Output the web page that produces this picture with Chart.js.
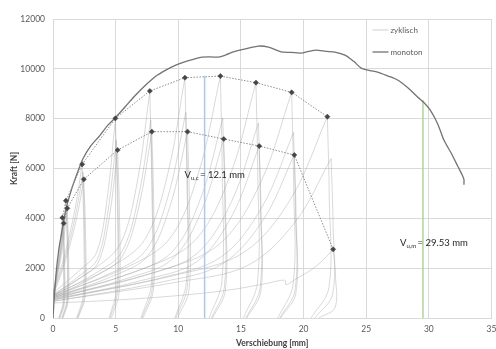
<!DOCTYPE html>
<html>
<head>
<meta charset="utf-8">
<script src="https://cdn.jsdelivr.net/npm/chart.js@4/dist/chart.umd.min.js"></script>
<style>
  html, body { margin: 0; padding: 0; background: #fff; }
  #wrap { width: 496px; height: 349px; position: relative; }
</style>
</head>
<body>
<div id="wrap"><canvas id="chart"></canvas></div>
<script>
/* ── Data ── */

const xTicks = [0, 5, 10, 15, 20, 25, 30, 35];
const yTicks = [0, 2000, 4000, 6000, 8000, 10000, 12000];

// monotonic test
const monoX = [0, 0.1, 0.25, 0.45, 0.65, 0.85, 1.1, 1.5, 2.0, 2.4, 3.0, 3.7, 4.4, 5.0, 5.8, 6.6, 7.4, 8.2, 9.0, 9.8,
               10.5, 11.2, 11.9, 12.6, 13.2, 13.8, 14.4, 15.0, 15.6, 16.4, 17.2, 18.2, 19.0, 19.8, 20.4, 21.0, 21.8,
               22.5, 23.3, 24.0, 24.6, 25.3, 25.9, 26.7, 27.5, 28.3, 29.1, 29.6, 30.1, 30.7, 31.2, 31.8, 32.3, 32.7,
               32.8, 32.8];
const monoY = [0, 800, 1800, 2700, 3300, 3900, 4500, 5200, 5900, 6400, 6900, 7300, 7750, 8050, 8500, 8950, 9350, 9700,
               9950, 10150, 10280, 10380, 10470, 10480, 10470, 10560, 10680, 10760, 10830, 10915, 10870, 10680, 10660,
               10630, 10700, 10750, 10700, 10670, 10550, 10300, 10030, 9930, 9870, 9720, 9550, 9250, 8870, 8650, 8350,
               7800, 7140, 6600, 6100, 5700, 5550, 5350];

// envelope of 1st and 3rd cycles
const envUpperX = [0.75, 1.03, 2.33, 4.98, 7.73, 10.53, 13.36, 16.2, 19.05, 21.9];
const envUpperY = [4025, 4707, 6168, 8014, 9110, 9644, 9711, 9443, 9057, 8078];
const envLowerX = [0.85, 1.14, 2.46, 5.16, 7.89, 10.74, 13.63, 16.46, 19.26, 22.36];
const envLowerY = [3800, 4402, 5566, 6742, 7477, 7477, 7183, 6902, 6541, 2756];

// ultimate displacements
const vuc = { x: 12.1, top: 9700, label: '12.1 mm' };
const vum = { x: 29.53, top: 8750, label: '29.53 mm' };

// cyclic test, visible pieces per load step (reloading / unloading)
const cycStep1 = [
    [[0, 950], [0.30, 1873], [0.56, 2949], [0.75, 4025]],
    [[0.75, 4025], [0.83, 2415], [0.80, 600], [0.45, 0]],
    [[0, 900], [0.32, 1800], [0.60, 2850], [0.80, 3900]],
    [[0.80, 3900], [0.88, 2340], [0.85, 585], [0.50, 0]],
    [[0, 880], [0.34, 1756], [0.64, 2778], [0.85, 3800]],
    [[0.85, 3800], [0.93, 2280], [0.90, 570], [0.55, 0]],
];
const cycStep2 = [
    [[0, 950], [0.41, 2077], [0.77, 3392], [1.03, 4707]],
    [[1.03, 4707], [1.13, 2824], [1.10, 706], [0.70, 0]],
    [[0, 900], [0.43, 1995], [0.81, 3273], [1.08, 4550]],
    [[1.08, 4550], [1.18, 2730], [1.15, 683], [0.75, 0]],
    [[0, 870], [0.46, 1930], [0.86, 3166], [1.14, 4402]],
    [[1.14, 4402], [1.24, 2641], [1.20, 660], [0.80, 0]],
];
const cycStep3 = [
    [[0, 980], [0.93, 2536], [1.75, 4352], [2.33, 6168]],
    [[2.33, 6168], [2.45, 3701], [2.42, 925], [1.90, 0]],
    [[0, 920], [0.96, 2399], [1.80, 4125], [2.40, 5850]],
    [[2.40, 5850], [2.52, 3510], [2.50, 878], [1.95, 0]],
    [[0, 880], [0.98, 2286], [1.85, 3926], [2.46, 5566]],
    [[2.46, 5566], [2.60, 3340], [2.56, 835], [2.00, 0]],
];
const cycStep4 = [
    [[0, 1000], [2.24, 1962], [3.49, 2645], [4.33, 4808], [4.98, 8014]],
    [[4.98, 8014], [5.13, 4808], [5.10, 1202], [4.48, 0]],
    [[0, 900], [2.27, 1758], [3.54, 2360], [4.39, 4290], [5.05, 7150]],
    [[5.05, 7150], [5.20, 4290], [5.17, 1073], [4.55, 0]],
    [[0, 860], [2.32, 1669], [3.61, 2225], [4.49, 4045], [5.16, 6742]],
    [[5.16, 6742], [5.31, 4045], [5.28, 1011], [4.66, 0]],
];
const cycStep5 = [
    [[0, 950], [3.48, 2043], [5.41, 3006], [6.73, 5466], [7.73, 9110]],
    [[7.73, 9110], [7.88, 5466], [7.85, 1367], [7.03, 0]],
    [[0, 880], [3.51, 1834], [5.46, 2624], [6.79, 4770], [7.80, 7950]],
    [[7.80, 7950], [7.95, 4770], [7.92, 1193], [7.10, 0]],
    [[0, 830], [3.55, 1727], [5.52, 2467], [6.86, 4486], [7.89, 7477]],
    [[7.89, 7477], [8.04, 4486], [8.01, 1122], [7.19, 0]],
];
const cycStep6 = [
    [[0, 920], [4.74, 2077], [7.37, 3183], [9.16, 5786], [10.53, 9644]],
    [[10.53, 9644], [10.68, 5786], [10.65, 1447], [9.73, 0]],
    [[0, 850], [4.77, 1840], [7.42, 2723], [9.22, 4950], [10.60, 8250]],
    [[10.60, 8250], [10.75, 4950], [10.72, 1238], [9.80, 0]],
    [[0, 800], [4.83, 1697], [7.52, 2467], [9.34, 4486], [10.74, 7477]],
    [[10.74, 7477], [10.89, 4486], [10.86, 1122], [9.94, 0]],
];
const cycStep7 = [
    [[0, 900], [6.01, 2065], [9.35, 3205], [11.62, 5827], [13.36, 9711]],
    [[13.36, 9711], [13.51, 5827], [13.48, 1457], [12.46, 0]],
    [[0, 820], [6.10, 1782], [9.49, 2645], [11.79, 4808], [13.55, 8014]],
    [[13.55, 8014], [13.70, 4808], [13.67, 1202], [12.65, 0]],
    [[0, 760], [6.13, 1622], [9.54, 2370], [11.86, 4310], [13.63, 7183]],
    [[13.63, 7183], [13.78, 4310], [13.75, 1077], [12.73, 0]],
];
const cycStep8 = [
    [[0, 860], [7.29, 1993], [11.34, 3116], [14.09, 5666], [16.20, 9443]],
    [[16.20, 9443], [16.35, 5666], [16.32, 1416], [15.20, 0]],
    [[0, 780], [7.38, 1719], [11.48, 2582], [14.27, 4695], [16.40, 7825]],
    [[16.40, 7825], [16.55, 4695], [16.52, 1174], [15.40, 0]],
    [[0, 720], [7.41, 1548], [11.52, 2278], [14.32, 4141], [16.46, 6902]],
    [[16.46, 6902], [16.61, 4141], [16.58, 1035], [15.46, 0]],
];
const cycStep9 = [
    [[0, 820], [8.57, 1907], [13.34, 2989], [16.57, 5434], [19.05, 9057]],
    [[19.05, 9057], [19.20, 5434], [19.17, 1359], [17.95, 0]],
    [[0, 720], [8.64, 1614], [13.44, 2459], [16.70, 4470], [19.20, 7450]],
    [[19.20, 7450], [19.35, 4470], [19.32, 1118], [18.10, 0]],
    [[0, 660], [8.67, 1445], [13.48, 2159], [16.76, 3925], [19.26, 6541]],
    [[19.26, 6541], [19.41, 3925], [19.38, 981], [18.16, 0]],
];
const cycStep10 = [
    [[0, 760], [9.86, 1729], [15.33, 2666], [19.05, 4847], [21.90, 8078]],
    [[21.90, 8078], [22.05, 4847], [22.02, 1212], [20.60, 0]],
    [[0, 680], [9.99, 1448], [15.54, 2112], [19.31, 3840], [22.20, 6400]],
    [[22.20, 6400], [22.35, 3840], [22.32, 960], [20.90, 0]],
    [[0, 600], [5, 720], [10, 900], [14, 1120], [17, 1380], [18.5, 1520], [18.6, 1330], [19.5, 1600],
     [20.6, 1926], [21.5, 2300], [22.36, 2756]],
    [[22.36, 2756], [22.55, 1650], [22.50, 410], [21.20, 0]],
];
const cycSteps = [cycStep1, cycStep2, cycStep3, cycStep4, cycStep5,
                  cycStep6, cycStep7, cycStep8, cycStep9, cycStep10];

/* ── Helpers ── */

const pts = (xs, ys) => xs.map((x, i) => ({ x, y: ys[i] }));

// flatten pieces into one path, gaps between pieces
function cyclicPath() {
    const out = [];
    cycSteps.forEach(step => step.forEach(piece => {
        piece.forEach(([x, y]) => out.push({ x, y }));
        out.push({ x: null, y: null });
    }));
    return out;
}

const TXT   = '#595959';
const GRID  = '#d9d9d9';
const FONT  = 'Lato, "Liberation Sans", sans-serif';

// legend + V_u labels drawn on the canvas
const overlay = {
    id: 'overlay',
    afterDatasetsDraw(chart) {
        const { ctx, chartArea, scales: { x, y } } = chart;
        ctx.save();

        // legend
        const lx = chartArea.right - 119;
        const rows = [
            { text: 'zyklisch', color: '#cfcfcf', width: 1, y: chartArea.top + 11 },
            { text: 'monoton',  color: '#737373', width: 1.3, y: chartArea.top + 33 },
        ];
        ctx.font = `8px ${FONT}`;
        ctx.textBaseline = 'middle';
        rows.forEach(r => {
            ctx.strokeStyle = r.color;
            ctx.lineWidth = r.width;
            ctx.beginPath();
            ctx.moveTo(lx, r.y);
            ctx.lineTo(lx + 16, r.y);
            ctx.stroke();
            ctx.fillStyle = TXT;
            ctx.fillText(r.text, lx + 18, r.y);
        });

        // V_u labels
        const label = (sub, text, dx, dy) => {
            let px = x.getPixelForValue(dx);
            const py = y.getPixelForValue(dy);
            ctx.textBaseline = 'alphabetic';
            ctx.fillStyle = '#262626';
            ctx.font = `9.5px ${FONT}`;
            ctx.fillText('V', px, py);
            px += ctx.measureText('V').width;
            ctx.font = `6px ${FONT}`;
            ctx.fillText(sub, px, py + 2);
            px += ctx.measureText(sub).width + 1.5;
            ctx.font = `9.5px ${FONT}`;
            ctx.fillText('= ' + text, px, py);
        };
        label('u,c', vuc.label, 10.5, 5600);
        label('u,m', vum.label, 27.7, 2900);

        ctx.restore();
    },
};

/* ── Chart ── */

new Chart(document.getElementById('chart').getContext('2d'), {
    type: 'scatter',
    data: {
        datasets: [
            {
                label:           'Hüllkurve 1',
                data:            pts(envUpperX, envUpperY),
                showLine:        true,
                borderColor:     '#8c8c8c',
                borderWidth:     1,
                borderDash:      [1.5, 1.5],
                pointStyle:      'rectRot',
                pointRadius:     2.6,
                backgroundColor: '#454545',
                pointBorderColor:'#454545',
                pointBorderWidth: 0.5,
            },
            {
                label:           'Hüllkurve 3',
                data:            pts(envLowerX, envLowerY),
                showLine:        true,
                borderColor:     '#8c8c8c',
                borderWidth:     1,
                borderDash:      [1.5, 1.5],
                pointStyle:      'rectRot',
                pointRadius:     2.6,
                backgroundColor: '#454545',
                pointBorderColor:'#454545',
                pointBorderWidth: 0.5,
            },
            {
                label:       'monoton',
                data:        pts(monoX, monoY),
                showLine:    true,
                borderColor: '#737373',
                borderWidth: 1.3,
                pointRadius: 0,
                tension:     0.3,
            },
            {
                label:       'Vu,c',
                data:        [{ x: vuc.x, y: 0 }, { x: vuc.x, y: vuc.top }],
                showLine:    true,
                borderColor: '#a9c9e8',
                borderWidth: 1.5,
                pointRadius: 0,
            },
            {
                label:       'Vu,m',
                data:        [{ x: vum.x, y: 0 }, { x: vum.x, y: vum.top }],
                showLine:    true,
                borderColor: '#add59a',
                borderWidth: 1.5,
                pointRadius: 0,
            },
            {
                label:       'zyklisch',
                data:        cyclicPath(),
                showLine:    true,
                spanGaps:    false,
                borderColor: 'rgba(160,160,160,0.5)',
                borderWidth: 0.8,
                pointRadius: 0,
                tension:     0.35,
            },
        ],
    },
    options: {
        responsive:          true,
        maintainAspectRatio: false,
        animation:           false,
        events:              [],
        layout: { padding: { top: 19, right: 2, left: 0, bottom: 0 } },
        font: { family: FONT },
        scales: {
            x: {
                type: 'linear',
                min:  0,
                max:  35,
                afterBuildTicks: s => { s.ticks = xTicks.map(v => ({ value: v })); },
                ticks:  { color: TXT, font: { family: FONT, size: 8.5 }, padding: 6, maxRotation: 0 },
                grid:   { color: GRID, drawTicks: false },
                border: { color: GRID },
                title:  { display: true, text: 'Verschiebung [mm]', color: '#404040',
                          font: { family: FONT, size: 8.5, weight: 'bold' }, padding: { top: 0, bottom: 1 } },
                afterFit: s => { s.height = 31; s.paddingLeft = 0; s.paddingRight = 0; },
            },
            y: {
                min: 0,
                max: 12000,
                afterBuildTicks: s => { s.ticks = yTicks.map(v => ({ value: v })); },
                ticks:  { color: TXT, font: { family: FONT, size: 8.5 }, padding: 8, callback: v => String(v) },
                grid:   { color: GRID, drawTicks: false },
                border: { color: GRID },
                title:  { display: true, text: 'Kraft [N]', color: '#404040',
                          font: { family: FONT, size: 8.5, weight: 'bold' }, padding: { top: 9, bottom: 0 } },
                afterFit: s => { s.width = 53; s.paddingTop = 0; s.paddingBottom = 0; },
            },
        },
        plugins: {
            legend:  { display: false },
            tooltip: { enabled: false },
        },
    },
    plugins: [overlay],
});
</script>
</body>
</html>
